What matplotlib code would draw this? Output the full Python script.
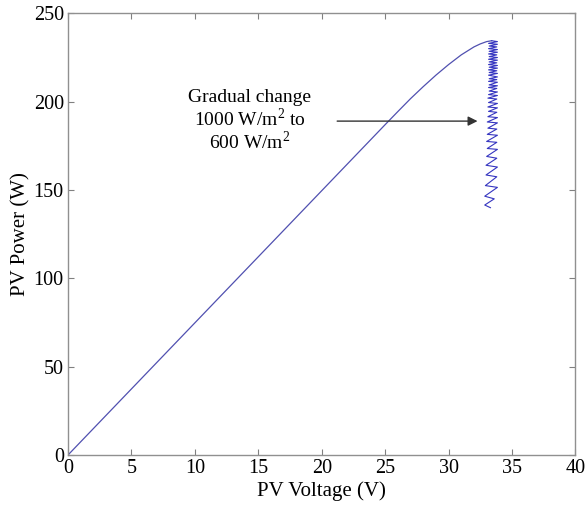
import matplotlib
matplotlib.use("Agg")
import matplotlib.pyplot as plt

plt.rcParams['font.family'] = ['Liberation Serif', 'DejaVu Serif']
plt.rcParams['mathtext.fontset'] = 'custom'
plt.rcParams['mathtext.rm'] = 'Liberation Serif'

# P-V curve up to the MPP
curve_v = [0, 5, 10, 15, 20, 25, 26, 27, 28, 29, 30, 31, 32, 32.5, 33.0, 33.4]
curve_p = [0, 37.4, 74.8, 112.2, 149.6, 187, 194.4, 201.7, 208.5, 215, 221, 226.5, 231, 232.7, 234, 234.5]

# oscillation around the MPP while irradiance falls 1000 -> 600 W/m2
osc_v = [33.4, 33.85, 33.15, 33.85, 33.2, 33.8, 33.15, 33.85, 33.2, 33.85,
         33.15, 33.8, 33.2, 33.85, 33.15, 33.85, 33.2, 33.8, 33.15, 33.85,
         33.2, 33.85, 33.15, 33.8, 33.2, 33.85, 33.15, 33.85, 33.2, 33.8,
         33.15, 33.85, 33.2, 33.85, 33.15, 33.8, 33.2, 33.85, 33.15, 33.85,
         33.1, 33.8, 33.15, 33.85, 33.1, 33.85, 33.15, 33.8, 33.1, 33.85,
         33.05, 33.85, 33.1, 33.8, 33.05, 33.85, 33.0, 33.8, 33.05, 33.85,
         33.0, 33.8, 32.95, 33.85, 32.95, 33.8, 32.9, 33.85, 32.85, 33.6,
         32.85, 33.3]
osc_p = [234.5, 234.0, 233.0, 232.5, 231.5, 231.0, 230.0, 229.5, 228.5, 228.0,
         227.0, 226.5, 225.5, 225.0, 224.0, 223.5, 222.5, 222.0, 221.0, 220.5,
         219.5, 219.0, 218.0, 217.5, 216.5, 216.0, 215.0, 214.0, 213.0, 212.5,
         211.5, 211.0, 209.5, 209.0, 208.0, 207.5, 206.0, 205.5, 204.0, 203.5,
         202.0, 201.5, 199.5, 199.0, 197.0, 196.5, 194.5, 194.0, 191.5, 191.0,
         188.5, 188.0, 185.0, 184.5, 181.5, 181.0, 177.5, 177.0, 173.5, 173.0,
         169.0, 168.0, 164.0, 163.0, 158.5, 157.5, 152.5, 151.5, 146.5, 145.0,
         141.5, 140.0]

x_ticks = [0, 5, 10, 15, 20, 25, 30, 35, 40]
y_ticks = [0, 50, 100, 150, 200, 250]

fig = plt.figure(figsize=(5.86, 5.13), dpi=100)
ax = fig.add_axes([0.116, 0.113, 0.866, 0.861])

ax.plot(curve_v, curve_p, color='#5050b0', lw=0.9)
ax.plot([curve_v[-1]] + osc_v, [curve_p[-1]] + osc_p, color='#3535c0', lw=0.8)

ax.annotate('', xy=(32.5, 189), xytext=(21.0, 189),
            arrowprops=dict(arrowstyle='-|>', color='#333333', lw=1.0,
                            mutation_scale=14))
ax.text(14.3, 189, 'Gradual change\n1000 W/m$^2$ to\n600 W/m$^2$',
        ha='center', va='center', fontsize=14, linespacing=1.05)

ax.set_xlim(0, 40)
ax.set_ylim(0, 250)
ax.set_xticks(x_ticks)
ax.set_yticks(y_ticks)
ax.tick_params(direction='in', top=True, right=True, labelsize=14.5,
               color='#808080', length=4, pad=3)
for s in ax.spines.values():
    s.set_color('#909090')
    s.set_linewidth(1.0)
ax.set_xlabel('PV Voltage (V)', fontsize=15, labelpad=2)
ax.set_ylabel('PV Power (W)', fontsize=15, labelpad=2)

fig.savefig('out.png', dpi=100)
